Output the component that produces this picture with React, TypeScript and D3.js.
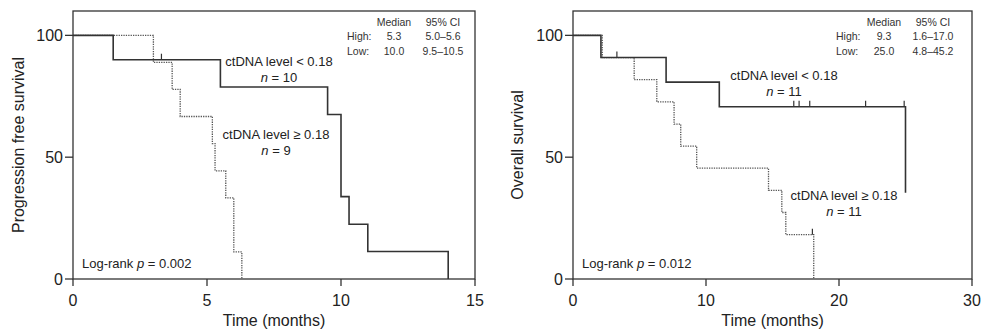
import { useEffect, useRef } from "react";
import * as d3 from "d3";

// ---- data ----
const pfsLowTimes = [0, 1.5, 5.5, 9.5, 10.0, 10.3, 11.0, 14.0];
const pfsLowSurv = [100, 90, 78.8, 67.5, 33.8, 22.5, 11.3, 0];
const pfsLowCensor = [3.3];
const pfsHighTimes = [0, 3.0, 3.7, 4.0, 5.2, 5.3, 5.7, 6.0, 6.3];
const pfsHighSurv = [100, 88.9, 77.8, 66.7, 55.6, 44.4, 33.3, 11.1, 0];
const pfsHighCensor: number[] = [];

const osLowTimes = [0, 2.1, 7.0, 11.0, 25.0];
const osLowSurv = [100, 90.9, 80.8, 70.7, 35.4];
const osLowCensor = [3.3, 16.6, 17.0, 17.8, 22.0, 24.9];
const osHighTimes = [0, 2.2, 4.6, 6.3, 7.6, 8.1, 9.3, 14.7, 15.7, 16.0, 18.1];
const osHighSurv = [100, 90.9, 81.8, 72.7, 63.6, 54.5, 45.5, 36.4, 27.3, 18.2, 0];
const osHighCensor = [18.0];

const yTicks = [0, 50, 100];
const pfsXTicks = [0, 5, 10, 15];
const osXTicks = [0, 10, 20, 30];

const tableHeader = ["Median", "95% CI"];
const pfsTable = [
  ["High:", "5.3", "5.0–5.6"],
  ["Low:", "10.0", "9.5–10.5"],
];
const osTable = [
  ["High:", "9.3", "1.6–17.0"],
  ["Low:", "25.0", "4.8–45.2"],
];

const pfsN = ["10", "9"];
const osN = ["11", "11"];
const pfsP = "0.002";
const osP = "0.012";

interface Panel {
  left: number;
  right: number;
  xMax: number;
  xTicks: number[];
  yTitle: string;
  yTitleX: number;
  low: { t: number[]; s: number[]; c: number[] };
  high: { t: number[]; s: number[]; c: number[] };
  table: string[][];
  tableCols: [number, number, number]; // offsets from right edge
  lowLabel: [number, number];
  highLabel: [number, number];
  n: string[];
  p: string;
}

const panels: Panel[] = [
  {
    left: 73,
    right: 475,
    xMax: 15,
    xTicks: pfsXTicks,
    yTitle: "Progression free survival",
    yTitleX: 24,
    low: { t: pfsLowTimes, s: pfsLowSurv, c: pfsLowCensor },
    high: { t: pfsHighTimes, s: pfsHighSurv, c: pfsHighCensor },
    table: pfsTable,
    tableCols: [128, 81, 32],
    lowLabel: [279, 66],
    highLabel: [276, 139],
    n: pfsN,
    p: pfsP,
  },
  {
    left: 573,
    right: 972,
    xMax: 30,
    xTicks: osXTicks,
    yTitle: "Overall survival",
    yTitleX: 523,
    low: { t: osLowTimes, s: osLowSurv, c: osLowCensor },
    high: { t: osHighTimes, s: osHighSurv, c: osHighCensor },
    table: osTable,
    tableCols: [136, 88, 39],
    lowLabel: [784, 80],
    highLabel: [844, 200],
    n: osN,
    p: osP,
  },
];

const W = 981;
const H = 332;
const TOP = 11;
const BOTTOM = 279;
const FONT = "'Liberation Sans', Arial, Helvetica, sans-serif";
const INK = "#333";

export default function App() {
  const svgRef = useRef<SVGSVGElement>(null);

  useEffect(() => {
    if (!svgRef.current) return;
    const svg = d3.select(svgRef.current);
    svg.selectAll("*").remove();

    const y = d3.scaleLinear().domain([0, 110]).range([BOTTOM, TOP]);

    panels.forEach((pn) => {
      const x = d3.scaleLinear().domain([0, pn.xMax]).range([pn.left, pn.right]);
      const g = svg.append("g");

      // frame
      g.append("rect")
        .attr("x", pn.left)
        .attr("y", TOP)
        .attr("width", pn.right - pn.left)
        .attr("height", BOTTOM - TOP)
        .attr("fill", "none")
        .attr("stroke", INK)
        .attr("stroke-width", 1.3);

      // x axis ticks + labels
      pn.xTicks.forEach((t) => {
        g.append("line")
          .attr("x1", x(t))
          .attr("x2", x(t))
          .attr("y1", BOTTOM)
          .attr("y2", BOTTOM + 7)
          .attr("stroke", INK)
          .attr("stroke-width", 1.3);
        g.append("text")
          .attr("x", x(t))
          .attr("y", BOTTOM + 27)
          .attr("text-anchor", "middle")
          .style("font-size", "16px")
          .style("font-family", FONT)
          .style("fill", "#222")
          .text(t);
      });

      // y axis ticks + labels
      yTicks.forEach((t) => {
        g.append("line")
          .attr("x1", pn.left - 8)
          .attr("x2", pn.left)
          .attr("y1", y(t))
          .attr("y2", y(t))
          .attr("stroke", INK)
          .attr("stroke-width", 1.3);
        g.append("text")
          .attr("x", pn.left - 10)
          .attr("y", y(t) + 5.5)
          .attr("text-anchor", "end")
          .style("font-size", "16px")
          .style("font-family", FONT)
          .style("fill", "#222")
          .text(t);
      });

      // axis titles
      g.append("text")
        .attr("x", (pn.left + pn.right) / 2)
        .attr("y", 326)
        .attr("text-anchor", "middle")
        .style("font-size", "16px")
        .style("font-family", FONT)
        .style("fill", "#222")
        .text("Time (months)");
      g.append("text")
        .attr("transform", `translate(${pn.yTitleX},${(TOP + BOTTOM) / 2}) rotate(-90)`)
        .attr("text-anchor", "middle")
        .style("font-size", "16px")
        .style("font-family", FONT)
        .style("fill", "#222")
        .text(pn.yTitle);

      // survival curves
      const line = d3
        .line<[number, number]>()
        .x((d) => x(d[0]))
        .y((d) => y(d[1]))
        .curve(d3.curveStepAfter);

      const drawCurve = (
        c: { t: number[]; s: number[]; c: number[] },
        dotted: boolean,
      ) => {
        const pts = c.t.map((t, i) => [t, c.s[i]] as [number, number]);
        g.append("path")
          .datum(pts)
          .attr("fill", "none")
          .attr("stroke", dotted ? "#555" : INK)
          .attr("stroke-width", dotted ? 1.3 : 1.6)
          .attr("stroke-dasharray", dotted ? "1.3 1.1" : null)
          .attr("d", line);
        const bis = d3.bisector((d: number) => d).right;
        c.c.forEach((ct) => {
          const v = c.s[Math.max(0, bis(c.t, ct) - 1)];
          g.append("line")
            .attr("x1", x(ct))
            .attr("x2", x(ct))
            .attr("y1", y(v))
            .attr("y2", y(v) - 6)
            .attr("stroke", INK)
            .attr("stroke-width", 1.2);
        });
      };
      drawCurve(pn.high, true);
      drawCurve(pn.low, false);

      // median table
      const [cLab, cMed, cCi] = pn.tableCols;
      const tstyle = (sel: d3.Selection<SVGTextElement, unknown, null, undefined>) =>
        sel
          .style("font-size", "10.5px")
          .style("font-family", FONT)
          .style("fill", "#333");
      tstyle(
        g.append("text")
          .attr("x", pn.right - cMed)
          .attr("y", 26)
          .attr("text-anchor", "middle")
          .text(tableHeader[0]),
      );
      tstyle(
        g.append("text")
          .attr("x", pn.right - cCi)
          .attr("y", 26)
          .attr("text-anchor", "middle")
          .text(tableHeader[1]),
      );
      pn.table.forEach((row, i) => {
        const ty = 40 + i * 14.5;
        tstyle(g.append("text").attr("x", pn.right - cLab).attr("y", ty).text(row[0]));
        tstyle(
          g.append("text")
            .attr("x", pn.right - cMed)
            .attr("y", ty)
            .attr("text-anchor", "middle")
            .text(row[1]),
        );
        tstyle(
          g.append("text")
            .attr("x", pn.right - cCi)
            .attr("y", ty)
            .attr("text-anchor", "middle")
            .text(row[2]),
        );
      });

      // curve labels
      const label = (cx: number, cy: number, head: string, n: string) => {
        g.append("text")
          .attr("x", cx)
          .attr("y", cy)
          .attr("text-anchor", "middle")
          .style("font-size", "13px")
          .style("font-family", FONT)
          .style("fill", "#222")
          .text(head);
        const t = g
          .append("text")
          .attr("x", cx)
          .attr("y", cy + 16)
          .attr("text-anchor", "middle")
          .style("font-size", "13px")
          .style("font-family", FONT)
          .style("fill", "#222");
        t.append("tspan").style("font-style", "italic").text("n");
        t.append("tspan").text(` = ${n}`);
      };
      label(pn.lowLabel[0], pn.lowLabel[1], "ctDNA level < 0.18", pn.n[0]);
      label(pn.highLabel[0], pn.highLabel[1], "ctDNA level ≥ 0.18", pn.n[1]);

      // log-rank
      const lr = g
        .append("text")
        .attr("x", pn.left + 9)
        .attr("y", 268)
        .style("font-size", "13px")
        .style("font-family", FONT)
        .style("fill", "#222");
      lr.append("tspan").text("Log-rank ");
      lr.append("tspan").style("font-style", "italic").text("p");
      lr.append("tspan").text(` = ${pn.p}`);
    });
  }, []);

  return (
    <svg
      ref={svgRef}
      width={W}
      height={H}
      style={{ position: "absolute", left: 0, top: 0, background: "#fff" }}
    />
  );
}
